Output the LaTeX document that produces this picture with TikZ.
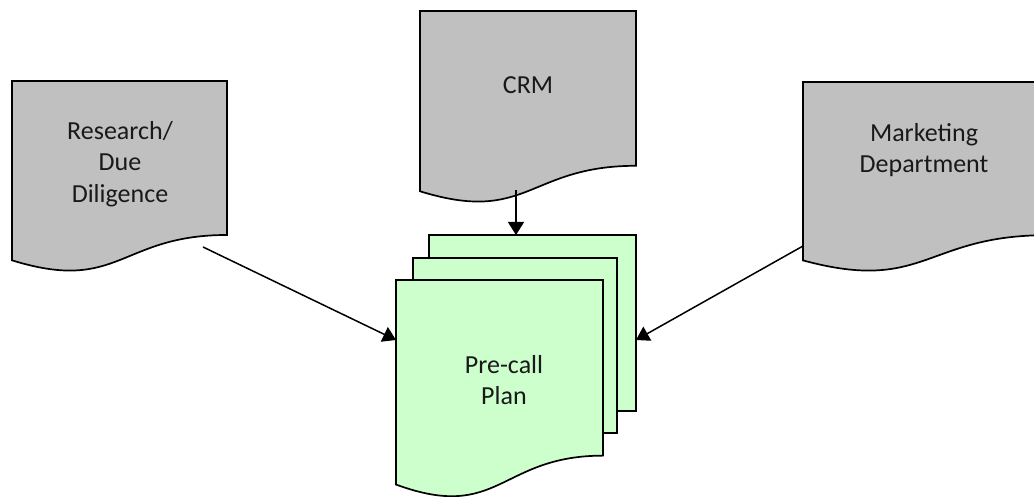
\documentclass[tikz,border=0pt]{standalone}
\usepackage{fontspec}
\setmainfont{Carlito}
\usetikzlibrary{arrows.meta}
\definecolor{docgray}{RGB}{192,192,192}
\definecolor{plangreen}{RGB}{204,255,204}
% document shape: style, x0, y0, width, height
\newcommand\docshape[5]{%
  \path[#1] (#2,#3) -- ({#2+#4},#3) -- ({#2+#4},{#3+0.802*#5})
    .. controls ({#2+0.5*#4},{#3+0.802*#5}) and ({#2+0.5*#4},{#3+1.1075*#5}) ..
    (#2,{#3+0.934*#5}) -- cycle;}
\begin{document}
\begin{tikzpicture}[x=1pt,y=-1pt,line width=1.7pt,
  doc/.style={draw=black,fill=docgray,line join=miter},
  sheet/.style={draw=black,fill=plangreen,line join=miter},
  lbl/.style={align=center,font=\fontsize{26}{31.5}\selectfont,inner sep=0pt,text=black!90},
  arr/.style={-{Triangle[length=13pt,width=16pt]},line width=1.5pt}]
\clip (0,0) rectangle (1034,497);
\fill[white] (0,0) rectangle (1034,497);
% source documents
\docshape{doc}{12}{81}{215}{192}
\docshape{doc}{420}{11}{216}{193}
\docshape{doc}{803}{82}{244}{191}
% multi-document
\path[sheet] (429,235) rectangle (636,411);
\path[sheet] (413,258) rectangle (617,433);
\docshape{sheet}{396}{280}{207}{219}
% labels
\node[lbl] (res) at (120,164) {Research/\\Due\\Diligence};
\node[lbl] (crm) at (528,85) {CRM};
\node[lbl] (mkt) at (924,150) {Marketing\\Department};
\node[lbl] (plan) at (504,380) {Pre-call\\Plan};
% connector ends
\coordinate (res-out) at (203,247);
\coordinate (plan-in-l) at (396,340);
\coordinate (crm-out) at (516,190);
\coordinate (plan-in-t) at (516,235);
\coordinate (mkt-out) at (803,246);
\coordinate (plan-in-r) at (636,340);
\draw[arr] (res-out) -- (plan-in-l);
\draw[arr] (crm-out) -- (plan-in-t);
\draw[arr] (mkt-out) -- (plan-in-r);
\end{tikzpicture}
\end{document}
